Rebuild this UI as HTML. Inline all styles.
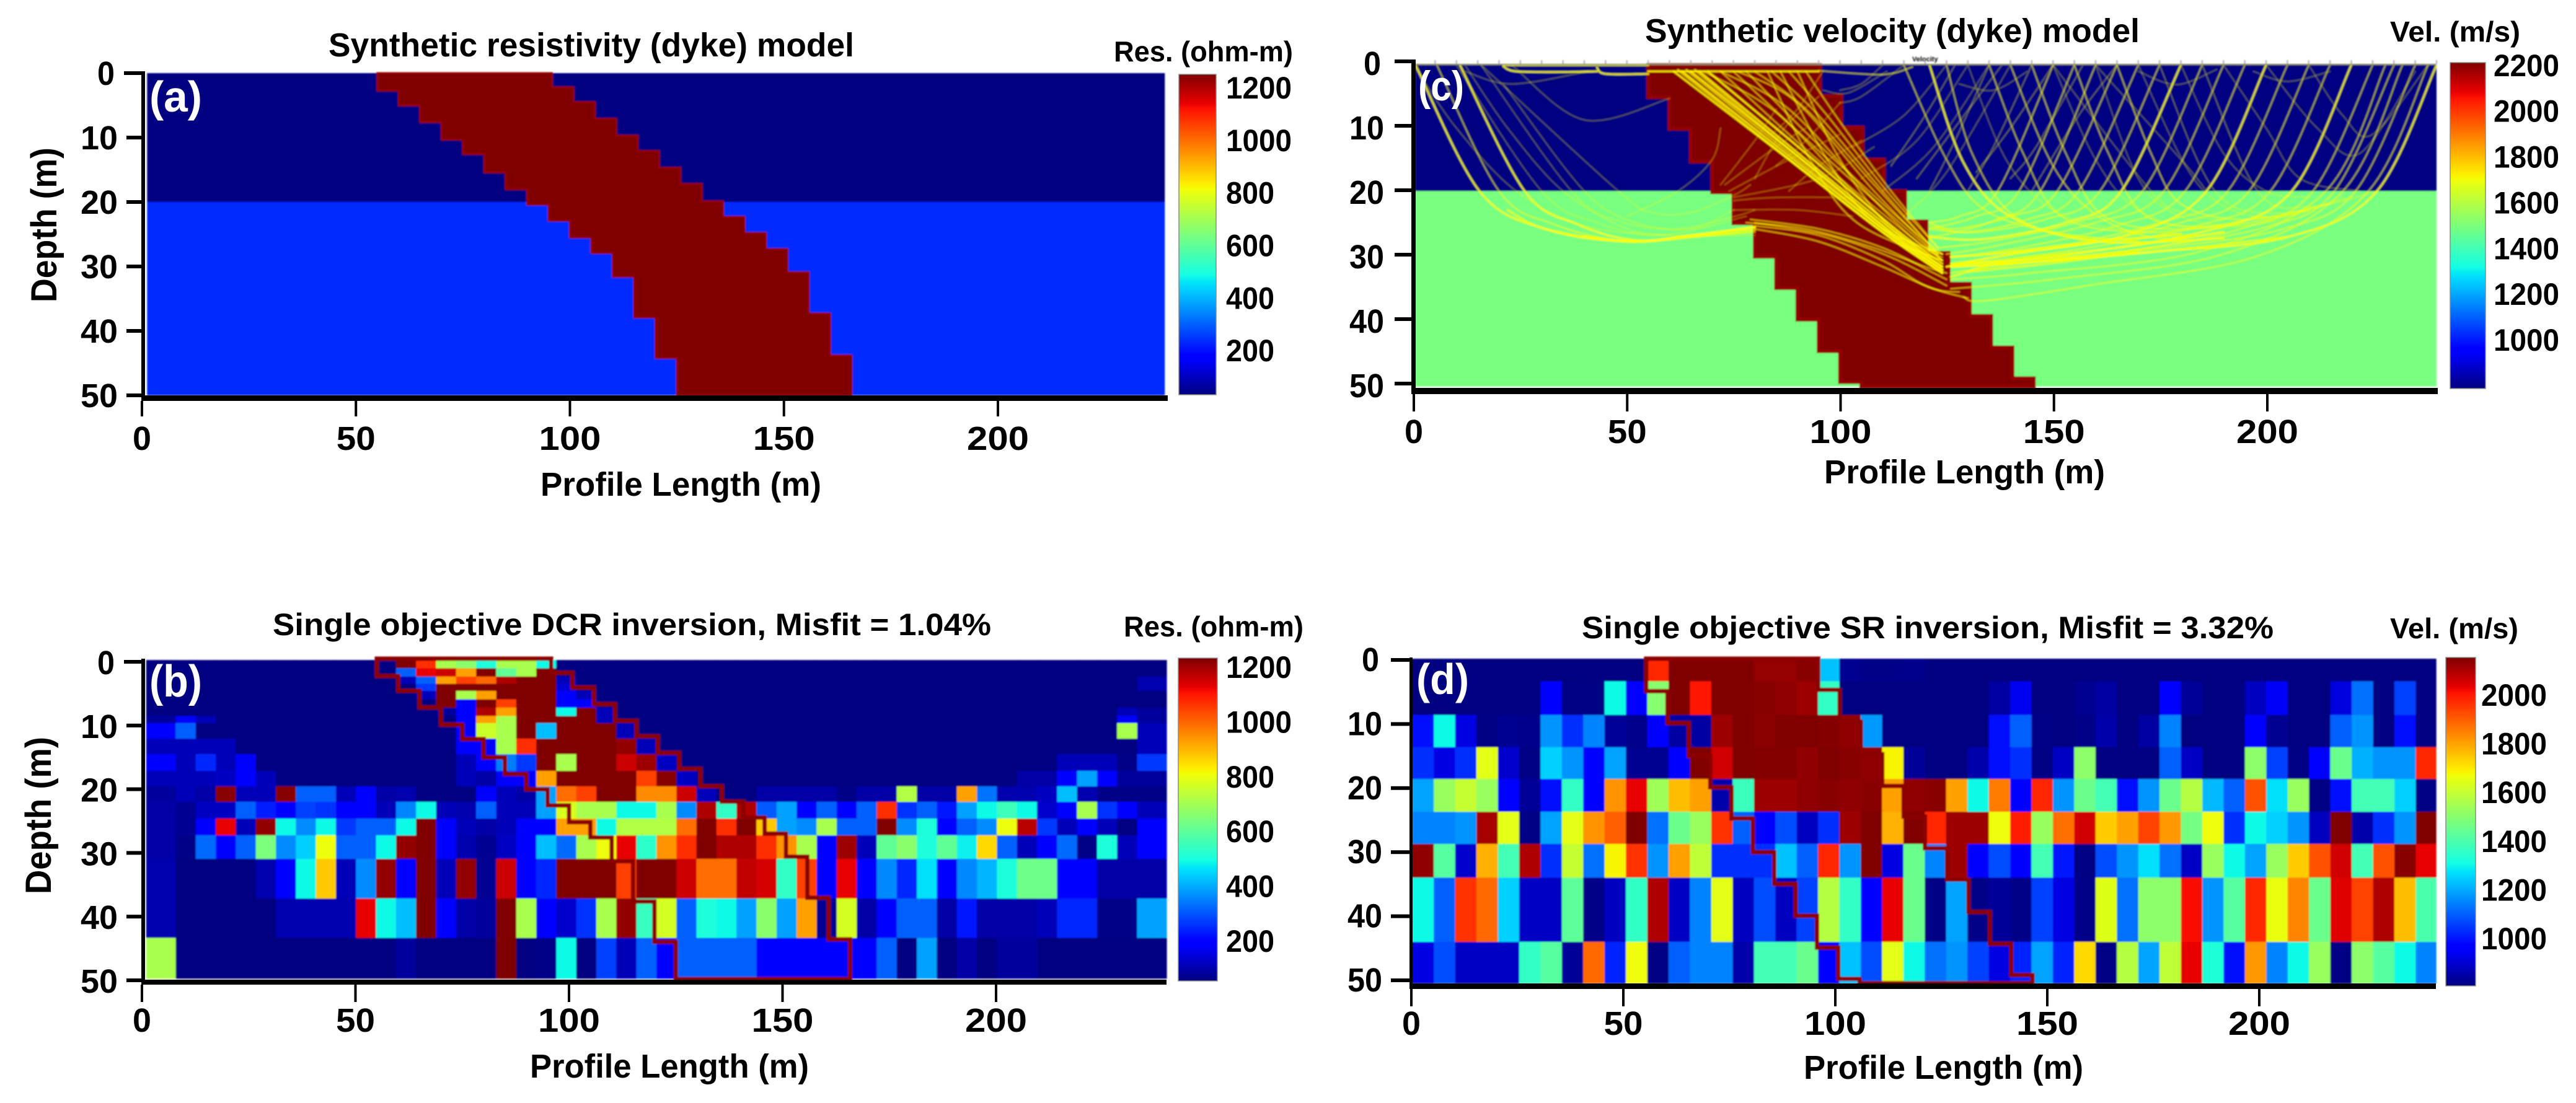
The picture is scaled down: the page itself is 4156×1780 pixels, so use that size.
<!DOCTYPE html>
<html lang="en">
<head>
<meta charset="utf-8">
<title>Synthetic dyke models and inversions</title>
<style>
html,body{margin:0;padding:0;background:#fff;}
svg{display:block;}
text{font-family:"Liberation Sans",sans-serif;font-weight:bold;fill:#000;}
</style>
</head>
<body>
<svg id="chart" xmlns="http://www.w3.org/2000/svg" width="4156" height="1780" viewBox="0 0 4156 1780">
<rect x="0" y="0" width="4156" height="1780" fill="#ffffff"/>
<defs>
<clipPath id="clip-c"><rect x="2283" y="103" width="1648" height="521"/></clipPath>
<filter id="soft" filterUnits="userSpaceOnUse" x="0" y="0" width="4156" height="1780"><feGaussianBlur stdDeviation="1"/></filter>
</defs>
<text x="530" y="91" font-size="54" textLength="848" lengthAdjust="spacingAndGlyphs">Synthetic resistivity (dyke) model</text>
<text x="2654" y="68" font-size="54" textLength="798" lengthAdjust="spacingAndGlyphs">Synthetic velocity (dyke) model</text>
<text x="440" y="1025" font-size="50" textLength="1159" lengthAdjust="spacingAndGlyphs">Single objective DCR inversion, Misfit = 1.04%</text>
<text x="2552" y="1030" font-size="50" textLength="1116" lengthAdjust="spacingAndGlyphs">Single objective SR inversion, Misfit = 3.32%</text>
<text x="1797" y="99" font-size="46" textLength="289" lengthAdjust="spacingAndGlyphs">Res. (ohm-m)</text>
<text x="1813" y="1027" font-size="46" textLength="290" lengthAdjust="spacingAndGlyphs">Res. (ohm-m)</text>
<text x="3856" y="67" font-size="46" textLength="210" lengthAdjust="spacingAndGlyphs">Vel. (m/s)</text>
<text x="3856" y="1030" font-size="46" textLength="207" lengthAdjust="spacingAndGlyphs">Vel. (m/s)</text>
<text x="872" y="800" font-size="54" textLength="453" lengthAdjust="spacingAndGlyphs">Profile Length (m)</text>
<text x="2943" y="780" font-size="54" textLength="453" lengthAdjust="spacingAndGlyphs">Profile Length (m)</text>
<text x="855" y="1739" font-size="54" textLength="450" lengthAdjust="spacingAndGlyphs">Profile Length (m)</text>
<text x="2910" y="1741" font-size="54" textLength="451" lengthAdjust="spacingAndGlyphs">Profile Length (m)</text>
<text transform="translate(91,488) rotate(-90)" font-size="58" textLength="250" lengthAdjust="spacingAndGlyphs">Depth (m)</text>
<text transform="translate(82,1443) rotate(-90)" font-size="58" textLength="254" lengthAdjust="spacingAndGlyphs">Depth (m)</text>
<g id="layer-marks" filter="url(#soft)"></g>
<g id="layer-axes"></g>
<g id="layer-labels">
<text x="241" y="180" font-size="70" textLength="85" lengthAdjust="spacingAndGlyphs" style="fill:#fff">(a)</text>
<text x="241" y="1124" font-size="72" textLength="85" lengthAdjust="spacingAndGlyphs" style="fill:#fff">(b)</text>
<text x="2288" y="162" font-size="68" textLength="74" lengthAdjust="spacingAndGlyphs" style="fill:#fff">(c)</text>
<text x="2285" y="1120" font-size="70" textLength="85" lengthAdjust="spacingAndGlyphs" style="fill:#fff">(d)</text>
</g>
</svg>
<script>
// ---- axis tick values ----
const xTickValues = [0, 50, 100, 150, 200];
const depthTickValues = [0, 10, 20, 30, 40, 50];
const resistivityBarTicks = [200, 400, 600, 800, 1000, 1200];
const velocityBarTicksC = [1000, 1200, 1400, 1600, 1800, 2000, 2200];
const velocityBarTicksD = [1000, 1200, 1400, 1600, 1800, 2000];

// ---- synthetic models ----
const resLayerDepths = [0, 20, 50];
const resLayerValues = [30, 235];
const resDykeValue = 1250;
const resDykeLeftX = [55, 60, 65, 70, 75, 80, 85, 90, 95, 100, 105, 110, 115, 120, 125];
const resDykeLeftDepth = [2.7, 5, 7.6, 10.3, 12.55, 15.4, 18, 20.4, 22.9, 25.5, 27.9, 31.6, 37.9, 44.2, 50];
const resDykeRightX = [95.8, 100.8, 105.8, 110.8, 115.8, 120.8, 125.8, 130.8, 135.8, 140.8, 145.8, 150.8, 155.8, 160.8, 165.8];
const resDykeRightDepth = [2.2, 4.5, 7.1, 9.7, 12.1, 14.7, 17.2, 19.9, 22.3, 24.8, 27.3, 30.9, 37.3, 43.8, 50];

const velLayerDepths = [0, 20, 51];
const velLayerValues = [800, 1500];
const velDykeValue = 2213;
const velDykeLeftX = [55, 60, 65, 70, 75, 80, 85, 90, 95, 100, 105];
const velDykeLeftDepth = [5.1, 10.1, 15.3, 20.2, 25.1, 30.4, 35.4, 40.4, 45.4, 50.3, 51];
const velDykeRightX = [95.3, 100.3, 105.3, 110.3, 115.3, 120.3, 125.5, 130.5, 135.5, 140.5, 145.5];
const velDykeRightDepth = [4.9, 9.9, 15, 20, 24.8, 29.8, 34.7, 39.8, 44.8, 49.7, 51];

// ---- panel b: DCR inversion (ohm-m), rows top to bottom, 50 columns ----
const dcrRowDepths = [0.2, 1.49, 2.79, 3.92, 5.03, 6.34, 7.64, 8.94, 10.06, 12.48, 14.89, 17.5, 19.92, 22.34, 24.95, 27.56, 31.24, 37.43, 43.58, 49.9];
const dcrValues = [
[30,30,30,30,30,30,30,30,30,30,30,30,1250,1080,707,660,500,707,707,481,30,30,30,30,30,30,30,30,30,30,30,30,30,30,30,30,30,30,30,30,30,30,30,30,30,30,30,30,30,30],
[30,30,30,30,30,30,30,30,30,30,30,30,298,1140,1170,933,1250,600,707,1250,30,30,30,30,30,30,30,30,30,30,30,30,30,30,30,30,30,30,30,30,30,30,30,30,30,30,30,30,30,30],
[30,30,30,30,30,30,30,30,30,30,30,30,90,298,933,1058,1010,1200,1250,1250,90,30,30,30,30,30,30,30,30,30,30,30,30,30,30,30,30,30,30,30,30,30,30,30,30,30,30,30,30,80],
[30,30,30,30,30,30,30,30,30,30,30,30,30,250,1250,1250,1250,1250,1250,1250,120,30,30,30,30,30,30,30,30,30,30,30,30,30,30,30,30,30,30,30,30,30,30,30,30,30,30,30,30,80],
[30,30,30,30,30,30,30,30,30,30,30,30,30,90,1250,707,933,1250,1250,1250,165,90,30,30,30,30,30,30,30,30,30,30,30,30,30,30,30,30,30,30,30,30,30,30,30,30,30,30,30,30],
[30,30,30,30,30,30,30,30,30,30,30,30,30,30,1250,165,1250,1058,1250,1250,165,165,30,30,30,30,30,30,30,30,30,30,30,30,30,30,30,30,30,30,30,30,30,30,30,30,30,30,30,30],
[30,30,30,30,30,30,30,30,30,30, 30,30,30,30,60,165,1200,933,1250,1250, 481,1250,90,30,30,30,30,30,30,30, 30,30,30,30,30,30,30,30,30,30, 30,30,30,30,30,30,30,30,90,60],
[60,165,90,30,30,30,30,30,30,30, 30,30,30,30,30,165,933,707,1250,1250, 1250,1250,90,30,30,30,30,30,30,30, 30,30,30,30,30,30,30,30,30,30, 30,30,30,30,30,30,30,30,165,60],
[165,298,30,30,30,30,30,30,30,30, 30,30,30,30,30,165,760,707,1250,410, 1250,1250,1250,90,30,30,30,30,30,30, 30,30,30,30,30,30,30,30,30,30, 30,30,30,30,30,30,30,30,707,90],
[90,90,90,90,30,30,30,30,30,30, 30,30,30,30,30,190,165,707,1080,1250, 1250,1250,1250,1230,90,30,30,30,30,30, 30,30,30,30,30,30,30,30,30,30, 30,30,30,30,30,30,30,30,30,90],
[190,90,230,90,165,30,30,30,30,30,30,30,30,30,30,90,165,330,250,1250,707,1250,1250,1170,1220,100,30,30,30,30,30,30,30,30,30,30,30,30,30,30,30,30,30,30,30,90,90,90,40,250],
[90,90,90,100,165,90,30,30,30,30,30,30,30,30,30,90,70,165,165,933,1250,1250,1250,1250,1058,1240,100,30,30,30,30,30,30,30,30,30,30,30,30,30,30,30,30,70,70,165,375,190,60,60],
[60,90,70,1240,90,90,1240,298,298,90,165,70,80,30,30,30,165,90,70,375,1000,1058,1250,1250,960,960,1170,90,30,30,70,70,70,70,40,70,70,720,70,70,933,320,80,80,100,410,80,40,40,40],
[70,50,100,100,298,220,190,260,240,175,165,90,340,481,90,80,298,90,90,375,780,707,707,481,481,707,350,1200,530,1200,290,375,170,298,165,298,1080,240,298,210,375,481,545,481,110,165,707,240,190,90],
[70,50,165,1140,90,1230,481,350,481,250,298,298,481,1250,165,90,70,90,165,165,933,933,481,720,720,720,1000,1250,1080,1250,880,375,350,707,298,298,1250,350,500,165,298,350,810,1190,250,90,165,90,30,165],
[70,40,310,165,298,640,350,430,810,298,298,481,1230,1250,165,80,50,100,165,410,310,707,810,1140,520,950,1080,1250,1200,1200,1080,950,707,165,1220,90,600,660,500,600,470,860,298,90,165,310,40,500,90,165],
[80,30,30,30,30,80,165,481,880,90,350,1230,165,1250,90,1230,50,1170,165,230,1250,1250,1250,1058,1250,1250,1170,1000,1000,1180,1160,530,1058,165,1140,165,345,230,450,165,345,400,500,620,620,165,165,70,70,70],
[80,30,30,30,30,30,80,80,80,80,1140,481,410,1250,165,70,60,1250,707,165,110,240,707,1230,540,770,298,500,481,375,660,375,933,50,770,70,165,298,298,70,210,70,70,70,90,230,230,40,40,375],
[707,30,30,30,30,30,30,30,30,30,30,30,60,30,30,30,30,1250,30,40,481,30,260,90,298,165,298,298,298,298,165,165,165,165,165,165,298,30,375,30,70,30,60,60,30,30,30,30,30,30]
];
const dcrFirstEdge = 1;
const dcrEndColumnWidth = 6.9;
const dcrColumnWidth = 4.69;

// ---- panel d: SR inversion (m/s), rows top to bottom, 48 columns ----
const srRowDepths = [0, 3.55, 8.83, 13.9, 18.9, 24.05, 29.1, 34.4, 44.5, 51];
const srValues = [
[810,810,810,810,810,810,810,810,810,810,810,1976,2150,2150,2150,2150,2125,2125,2140,1232,830,820,820,825,810,810,810,810,810,810,810,810,810,810,810,810,810,810,810,810,810,810,810,810,810,810,810,810],
[810,810,810,810,810,810,957,815,815,1306,960,1500,2150,2000,2150,2150,2140,2130,2116,1360,810,810,810,810,810,810,810,850,940,810,810,830,850,810,810,960,840,810,810,884,950,810,810,920,1125,810,1060,810],
[998,1306,924,815,830,825,1172,1038,1150,840,825,957,850,850,2116,2150,2137,2150,2150,2145,2130,1180,810,810,810,810,810,998,1105,820,810,820,860,810,850,1150,810,810,810,957,830,810,810,1105,1172,810,998,810],
[1038,924,1038,1648,900,815,1252,1172,957,1192,830,830,957,2150,2056,2150,2145,2145,2130,2150,2140,2130,1681,840,810,810,860,998,1038,815,890,1507,810,810,810,1105,890,810,810,1507,1060,815,960,1453,1210,1172,1172,1976],
[1192,1527,1600,1527,957,840,998,1360,957,1820,2029,1540,1761,1802,860,1373,2116,2116,2130,2140,2130,2140,1802,2130,2140,1802,1306,1855,960,1976,1172,1453,1386,990,1172,1453,1574,1220,1105,1915,1272,1527,815,998,1386,1386,1252,815],
[1150,1150,1172,2105,1648,815,1192,1648,1820,1895,2150,1125,1453,1527,1960,1105,957,1078,884,1038,2116,2150,1780,2150,1976,2116,2116,1670,1990,1527,1870,2056,1740,1802,1936,1815,1470,1670,1038,1306,1252,1172,884,2150,860,1038,1172,2150],
[2130,1420,900,1780,1386,2096,1038,1600,1125,1681,1960,1172,1802,1590,1038,1038,1038,1232,1105,1976,1172,2150,924,1453,1150,2116,957,1078,957,1386,1010,815,1078,1172,1272,1125,890,1527,1306,1192,1527,1740,1915,2056,1386,1915,2140,2029],
[1306,1105,1960,1880,1252,890,890,1430,820,884,1360,2096,890,1150,1648,884,1078,884,1060,1574,1360,957,2029,1453,815,1192,820,840,820,1060,924,820,1640,1125,1507,1507,2010,1172,1420,1976,1660,1840,1453,2040,1936,2096,1761,1400],
[924,1078,890,890,890,1360,1420,837,1880,1020,1670,815,1105,1150,1150,860,1386,1386,1453,957,1232,1078,1648,1306,1125,1172,1060,924,1020,1192,1020,1721,815,1574,1192,1590,2029,1330,998,1815,1150,1306,1527,815,1507,1420,1306,1150]
];
const srColumnWidth = 5;
const srColumnOffset = 0.25;
const srMaxX = 240;

// ---- panel c: ray paths as [profile metres, depth metres] control points ----
const bandRays = [
[[22,23],[30.8,26],[50,28],[65.4,27],[80,25.7]],
[[40,27.2],[52,28],[65,27.3],[80,26.2]],
[[205,27.3],[174,29.6],[144,31.3],[126,32]],
[[190,26.5],[165,29],[140,31],[126,33.6]],
[[180,26.8],[155,28.4],[135,30],[126,30.4]],
[[170,29.6],[150,31.4],[130,32.8]],
[[62,0.8],[90,16],[110,26.5],[124,33]],
[[64,0.8],[90,15],[111,26.5],[124,32.6]],
[[66,0.8],[91,15],[112,26.6],[124,32.4]]
];
const heavyRays = [
[[240,0],[226,20],[205,27.3],[174,29.6],[144,31.3],[126,32]],
[[220,0],[206,20],[186,26.3],[151,30.3],[128,31.6]],
[[200,0],[186,20],[167,27],[140,30],[125,32]],
[[180,0],[166,20],[153,25],[134,27.6],[121,27.3]],
[[121,0],[129,15.5],[140,24],[161,28],[190,27.5]],
[[0.4,0],[15.4,20],[30.8,26],[50,28],[65.4,27],[80,25.7]],
[[10.8,0],[26,20],[38.5,25.3],[52,27.8],[65.4,27],[80,25.8]],
[[61,1],[90,16],[110,26.5],[124,33]],
[[63,1],[91,16],[111,26.5],[124,32.5]],
[[65,1],[92,15.5],[112,26.5],[124,32]],
[[67,1],[92,15],[112,26],[124,32]],
[[69,1],[92,14],[113,26],[124,31.5]],
[[21,0],[30,0],[45,0],[55,0]],
[[21,0.2],[24,1],[35,1.1],[43,1]],
[[43,0.4],[45,1.4],[55,1.4]],
[[55,1],[70,1],[95,1]]
];
const mediumRays = [
[[235,0],[221,20],[204,26],[178,28.8],[150,30.6],[126,31.5]],
[[230,0],[216,20],[200,25.7],[172,29],[146,31],[126,32]],
[[225,0],[211,20],[194,26],[168,29.5],[142,31.5],[126,33]],
[[215,0],[201,20],[184,25.5],[158,29],[136,31],[126,31.5]],
[[210,0],[196,20],[180,25],[155,28.6],[126,30.5]],
[[205,0],[191,20],[175,25],[150,29],[126,31.5]],
[[195,0],[181,20],[165,25.5],[142,29],[126,30.5]],
[[190,0],[176,20],[160,25],[138,28.5],[125,30]],
[[185,0],[171,20],[155,25],[135,28],[123,29]],
[[175,0],[161,20],[148,24.5],[132,26.5],[121,26]],
[[170,0],[156,20],[144,24.5],[130,26.5],[121,25.5]],
[[165,0],[151,20],[140,24],[127,26],[121,25]],
[[160,0],[147,20],[136,24.7],[124,27],[121,27]],
[[155,0],[142,20],[132,24],[121,26]],
[[150,0],[137,20],[128,24],[121,25]],
[[140,0],[150,16],[160.6,24],[175,27.5],[190,26.5]],
[[115,0],[125,15],[134,23],[150,26.5],[170,28]],
[[5.4,0],[20,20],[33,25.3],[50,28],[65,27.3],[80,26.5]],
[[72,1],[93,14],[114,25.8],[124,31]],
[[75,1],[94,13],[114,25],[124,31]],
[[78,1],[94,12],[115,25],[124,30]],
[[83,1],[93,15],[104,25],[124,31]],
[[86,1],[97,15],[108,25],[124,30]],
[[90,1],[100,15],[112,26],[124,30.5]],
[[68,1],[85,7.5],[103,20],[118,29],[124,31]],
[[72,1],[88,7],[106,20],[118,28],[124,30]],
[[76,1],[90,6],[108,20],[124,31]],
[[80,1],[92,7],[108,19],[123,30]],
[[84,1],[95,8],[110,20],[123,30]],
[[88,1],[97,8],[111,20],[123,29]],
[[92,1],[100,9],[112,20],[123,29]],
[[80,25.5],[95,27],[110,31],[120,35],[130,37]],
[[80,25],[97,27],[112,30.5],[125,35]],
[[80,26],[95,28],[110,32],[122,35.5],[128,36]],
[[79,24.5],[95,26],[110,29],[122,33],[125,34]],
[[78,25],[92,26],[108,29],[120,32],[125,33]],
[[95,0.9],[110,1.5],[117,0.3]],
[[238,0],[224,20],[198,30.3],[159,34.9],[134,37.4],[129,36.8]],
[[232,0],[218,20],[190,30],[150,34],[126,35.5]],
[[228,0],[214,20],[185,29.5],[145,33],[126,34]],
[[125,0],[131,14],[141,24],[158,27.5],[180,27]],
[[135,0],[143,14],[152,24],[170,26.5],[190,25.5]],
[[145,0],[153,14],[162,24],[180,26],[200,24]],
[[155,0],[163,14],[172,24],[190,25.5],[210,23]],
[[165,0],[173,14],[180,22],[195,24.5],[215,22]]
];
const faintRays = [
[[160,0],[170,18],[180,24],[195,25.5],[210,23]],
[[130,0],[139,15],[150,23],[165,26],[185,27]],
[[150,0],[160,15],[170,23],[185,26],[205,24.5]],
[[170,0],[182,17],[192,23],[205,24],[218,21]],
[[180,0],[190,14],[200,20],[210,21]],
[[150,0],[173,20],[180.7,23.4],[190,24.7]],
[[160,0],[180.7,15.5],[186,20]],
[[190,0],[200,10],[208,18],[222,20]],
[[200,0],[212,10],[222,14],[235,1]],
[[210,0],[218,8],[225,11],[238,0]],
[[170,1],[179,3.1],[188.4,0.7]],
[[197,1],[205,2.6],[215,1]],
[[128,3],[136,4],[144,1]],
[[15.8,0],[37,20],[48,24.7],[61.6,26],[75.4,24],[80,23]],
[[15.8,0],[48,20],[56,23.4],[65,23.4],[75,20.7],[79,19]],
[[10,0],[30,20],[43,25],[58,27],[78,24]],
[[0,0],[10,10],[24,20],[40,25.5],[60,27],[80,27]],
[[21,3],[40,20],[52,25],[65,26],[75,23]],
[[50,24],[62,20],[70,15],[72,10]],
[[12,0],[22,10],[35,20],[50,26],[60,27]],
[[23,0],[40,8.7],[60,5.3]],
[[12,1],[23,3],[41,1]],
[[125,0],[115,8],[103,13]],
[[130,0],[118,12],[105,18]],
[[135,0],[122,13],[110,20]],
[[140,0],[125,17],[115,24]],
[[115,0],[105,5],[100,6]],
[[110,0],[105,3],[100,4]],
[[96,4],[102,4.4],[111,1]],
[[96,1],[90,7],[84,11]],
[[95,5],[87,10],[80,18]],
[[100,6],[92,12],[85,16]],
[[105,12],[95,16],[88,20]],
[[72,19],[80,12],[85,7]],
[[73,19],[85,13],[92,10]],
[[74,20],[88,15],[100,11]],
[[75,21],[95,18],[108,13]],
[[75,23],[90,23],[103,24]],
[[75,21.5],[85,21],[103,21]]
];
// Receiver stations along the top of panel c (profile metres).
const surveyStations = [0,5,10,15,20,25,30,35,40,45,50,55,60,65,70,75,80,85,90,95,100,105,110,115,120,125,130,135,140,145,150,155,160,165,170,175,180,185,190,195,200,205,210,215,220,225,230,235,240];

// Right-side receiver rays in panel c.
const receiverRays = [
[[175,0],[188,20],[203,23.5],[220,21]],
[[185,0],[198,20],[210,22.5],[226,20]],
[[145,0],[136,13],[130,20]],[[135,0],[127,12],[121,20]],
[[127,0],[120,8],[112,16]],[[138,0],[128,9],[118,18]],
[[150,0],[140,10],[132,17]],[[157,0],[146,13],[140,18]],
[[165,0],[156,8],[145,20]]
];

const NS = 'http://www.w3.org/2000/svg';
const marks = document.getElementById('layer-marks');
const axes = document.getElementById('layer-axes');
const defs = document.querySelector('#chart defs');

function lerpTable(t, xs, ys) {
  if (t <= xs[0]) return ys[0];
  for (let i = 1; i < xs.length; i++) {
    if (t <= xs[i]) return ys[i - 1] + (ys[i] - ys[i - 1]) * (t - xs[i - 1]) / (xs[i] - xs[i - 1]);
  }
  return ys[ys.length - 1];
}
function jet(t) {
  const r = lerpTable(t, [0, 0.35, 0.66, 0.89, 1], [0, 0, 1, 1, 0.5]);
  const g = lerpTable(t, [0, 0.125, 0.375, 0.64, 0.91, 1], [0, 0, 1, 1, 0, 0]);
  const b = lerpTable(t, [0, 0.11, 0.34, 0.65, 1], [0.5, 1, 1, 0, 0]);
  return 'rgb(' + Math.round(r * 255) + ',' + Math.round(g * 255) + ',' + Math.round(b * 255) + ')';
}
function colorOf(v, dom) { return jet((v - dom[0]) / (dom[1] - dom[0])); }
function mk(tag, attrs, parent) {
  const el = document.createElementNS(NS, tag);
  for (const k in attrs) el.setAttribute(k, attrs[k]);
  parent.appendChild(el);
  return el;
}
function linear(origin, slope) { return function (v) { return origin + slope * v; }; }

function staircase(leftX, leftD, rightX, rightD) {
  const pts = [[leftX[0], 0]];
  for (let i = 0; i < leftX.length; i++) {
    pts.push([leftX[i], leftD[i]]);
    if (i + 1 < leftX.length) pts.push([leftX[i + 1], leftD[i]]);
  }
  for (let i = rightX.length - 1; i >= 0; i--) {
    pts.push([rightX[i], rightD[i]]);
    if (i > 0) pts.push([rightX[i], rightD[i - 1]]);
  }
  pts.push([rightX[0], 0]);
  return pts;
}
function polyPoints(pts, sx, sy) {
  return pts.map(function (p) { return sx(p[0]).toFixed(1) + ',' + sy(p[1]).toFixed(1); }).join(' ');
}
function smoothPath(pts, sx, sy) {
  const P = pts.map(function (p) { return [sx(p[0]), sy(p[1])]; });
  let d = 'M' + P[0][0].toFixed(1) + ' ' + P[0][1].toFixed(1);
  for (let i = 0; i < P.length - 1; i++) {
    const p0 = P[i - 1] || P[i], p1 = P[i], p2 = P[i + 1], p3 = P[i + 2] || P[i + 1];
    d += 'C' + (p1[0] + (p2[0] - p0[0]) / 6).toFixed(1) + ' ' + (p1[1] + (p2[1] - p0[1]) / 6).toFixed(1) + ' ' +
      (p2[0] - (p3[0] - p1[0]) / 6).toFixed(1) + ' ' + (p2[1] - (p3[1] - p1[1]) / 6).toFixed(1) + ' ' +
      p2[0].toFixed(1) + ' ' + p2[1].toFixed(1);
  }
  return d;
}

const panels = {
  a: { xs: linear(229, 6.905), ys: linear(118, 10.4), tickYs: linear(118, 10.4), tickXs: linear(229, 6.905),
    color: [30, 1250], barDom: [33, 1252], bar: [1902, 120, 60, 517], barTicks: resistivityBarTicks, barLabelX: 1978,
    axisLeft: 228, axisW: 6, axisTop: 115, axisBottom: 647, baseY: 638, baseH: 9, baseRight: 1884, tickBottom: 672,
    yTickLeft: 204, zeroTickLeft: 200, yLabelRight: 190, zeroLabelRight: 185, yLabelW: 60, yLabelDy: 19, xBase: 726 },
  b: { xs: linear(229, 6.89), ys: linear(1063, 10.34), tickYs: linear(1068, 10.28), tickXs: linear(229, 6.89),
    color: [30, 1250], barDom: [55, 1234], bar: [1901, 1062, 63, 521], barTicks: resistivityBarTicks, barLabelX: 1978,
    axisLeft: 228, axisW: 6, axisTop: 1063, axisBottom: 1588, baseY: 1581, baseH: 8, baseRight: 1882, tickBottom: 1617,
    yTickLeft: 204, zeroTickLeft: 200, yLabelRight: 190, zeroLabelRight: 185, yLabelW: 60, yLabelDy: 20, xBase: 1665 },
  c: { xs: linear(2281, 6.875), ys: linear(105, 10.17), tickYs: linear(99, 10.4), tickXs: linear(2281, 6.885),
    color: [800, 2213], barDom: [789, 2213], bar: [3953, 101, 57, 526], barTicks: velocityBarTicksC, barLabelX: 4023,
    axisLeft: 2277, axisW: 7, axisTop: 96, axisBottom: 636, baseY: 626, baseH: 10, baseRight: 3933, tickBottom: 664,
    yTickLeft: 2250, zeroTickLeft: 2250, yLabelRight: 2233, zeroLabelRight: 2228, yLabelW: 56, yLabelDy: 22, xBase: 715 },
  d: { xs: linear(2277, 6.888), ys: linear(1063, 10.27), tickYs: linear(1065, 10.34), tickXs: linear(2277, 6.84),
    color: [810, 2150], barDom: [807, 2155], bar: [3946, 1061, 48, 530], barTicks: velocityBarTicksD, barLabelX: 4003,
    axisLeft: 2274, axisW: 5, axisTop: 1061, axisBottom: 1596, baseY: 1587, baseH: 9, baseRight: 3930, tickBottom: 1624,
    yTickLeft: 2244, zeroTickLeft: 2244, yLabelRight: 2230, zeroLabelRight: 2225, yLabelW: 56, yLabelDy: 18, xBase: 1670 }
};

function drawLayers(key, depths, values, x0, x1, name) {
  const p = panels[key];
  for (let i = 0; i < values.length; i++) {
    const r = mk('rect', { x: p.xs(x0), y: p.ys(depths[i]), width: p.xs(x1) - p.xs(x0), height: p.ys(depths[i + 1]) - p.ys(depths[i]), fill: colorOf(values[i], p.color) }, marks);
    
    
  }
}
function drawAxes(key) {
  const p = panels[key];
  const g = mk('g', {}, axes);
  
  
  const left = mk('rect', { x: p.axisLeft, y: p.axisTop, width: p.axisW, height: p.axisBottom - p.axisTop, fill: '#000' }, g);
  
  
  const base = mk('rect', { x: p.axisLeft, y: p.baseY, width: p.baseRight - p.axisLeft, height: p.baseH, fill: '#000' }, g);
  
  
  xTickValues.forEach(function (v) {
    const x = p.tickXs(v);
    const tick = mk('rect', { x: x - 2, y: p.baseY + p.baseH, width: 4, height: p.tickBottom - p.baseY - p.baseH, fill: '#000' }, g);
    
    
    const s = String(v);
    const t = mk('text', { x: x, y: p.xBase, 'font-size': 54, 'text-anchor': 'middle', textLength: s.length === 1 ? 30 : s.length === 2 ? 63 : 100, lengthAdjust: 'spacingAndGlyphs' }, g);
    t.textContent = s;
    
    
  });
  depthTickValues.forEach(function (v) {
    const y = p.tickYs(v);
    const tl = v === 0 ? p.zeroTickLeft : p.yTickLeft;
    const tick = mk('rect', { x: tl, y: y - 3, width: p.axisLeft + p.axisW - tl, height: 6, fill: '#000' }, g);
    
    
    const t = mk('text', { x: v === 0 ? p.zeroLabelRight : p.yLabelRight, y: y + p.yLabelDy, 'font-size': 54, 'text-anchor': 'end', textLength: v === 0 ? 28 : p.yLabelW, lengthAdjust: 'spacingAndGlyphs' }, g);
    t.textContent = String(v);
    
    
  });
  // colour bar
  const grad = mk('linearGradient', { id: 'grad-' + key, x1: 0, y1: 1, x2: 0, y2: 0 }, defs);
  [0, 0.11, 0.125, 0.34, 0.35, 0.375, 0.5, 0.64, 0.65, 0.66, 0.89, 0.91, 1].forEach(function (t) {
    mk('stop', { offset: t, 'stop-color': jet(t) }, grad);
  });
  const b = p.bar;
  const bar = mk('rect', { x: b[0], y: b[1], width: b[2], height: b[3], fill: 'url(#grad-' + key + ')', stroke: '#8a8a8a', 'stroke-width': 1.5 }, g);
  
  
  p.barTicks.forEach(function (v) {
    const y = b[1] + b[3] * (1 - (v - p.barDom[0]) / (p.barDom[1] - p.barDom[0]));
    const s = String(v);
    const t = mk('text', { x: p.barLabelX, y: y + 17, 'font-size': 50, textLength: s.length === 3 ? 78 : 106, lengthAdjust: 'spacingAndGlyphs' }, g);
    t.textContent = s;
    
    
  });
}

// ---- panel a ----
drawLayers('a', resLayerDepths, resLayerValues, 1.2, 239, 'resistivity-layer');
const resDykePoints = staircase(resDykeLeftX, resDykeLeftDepth, resDykeRightX, resDykeRightDepth);
const dykeA = mk('polygon', { points: polyPoints(resDykePoints, panels.a.xs, panels.a.ys), fill: colorOf(resDykeValue, panels.a.color), stroke: '#960000', 'stroke-width': 3 }, marks);



// ---- panel b ----
dcrValues.forEach(function (row, r) {
  row.forEach(function (v, c) {
    const p = panels.b;
    let x0, x1;
    if (c === 0) { x0 = dcrFirstEdge; x1 = dcrFirstEdge + dcrEndColumnWidth; }
    else {
      x0 = dcrFirstEdge + dcrEndColumnWidth + (c - 1) * dcrColumnWidth;
      x1 = x0 + (c === 49 ? dcrEndColumnWidth : dcrColumnWidth);
    }
    const cell = mk('rect', { x: p.xs(x0).toFixed(1), y: p.ys(dcrRowDepths[r]).toFixed(1), width: (p.xs(x1) - p.xs(x0) + 0.6).toFixed(1), height: (p.ys(dcrRowDepths[r + 1]) - p.ys(dcrRowDepths[r]) + 0.6).toFixed(1), fill: colorOf(v, p.color) }, marks);
    
    
  });
});
const outlineB = mk('polygon', { points: polyPoints(resDykePoints, panels.b.xs, panels.b.ys), fill: 'none', stroke: '#8b0000', 'stroke-width': 7 }, marks);



// ---- panel c ----
drawLayers('c', velLayerDepths, velLayerValues, 0.3, 240, 'velocity-layer');
const velDykePoints = staircase(velDykeLeftX, velDykeLeftDepth, velDykeRightX, velDykeRightDepth);
const dykeC = mk('polygon', { points: polyPoints(velDykePoints, panels.c.xs, panels.c.ys), fill: colorOf(velDykeValue, panels.c.color), stroke: '#930000', 'stroke-width': 6 }, marks);


const rayGroup = mk('g', { 'clip-path': 'url(#clip-c)', fill: 'none', stroke: '#ffff00', 'stroke-linecap': 'round' }, marks);


function drawRays(list, width, opacity, name) {
  list.forEach(function (pts) {
    const ray = mk('path', { d: smoothPath(pts, panels.c.xs, panels.c.ys), 'stroke-width': width, 'stroke-opacity': opacity }, rayGroup);
    
    
  });
}
drawRays(faintRays, 2.2, 0.3, 'faint-ray');
drawRays(receiverRays, 2.2, 0.35, 'receiver-ray');
drawRays(mediumRays, 2.4, 0.6, 'medium-ray');
drawRays(heavyRays, 3.2, 0.85, 'heavy-ray');
drawRays(bandRays, 3.6, 0.7, 'ray-band');
const topLine = mk('rect', { x: 2283, y: 103, width: 1648, height: 2, fill: '#8f8f70' }, marks);


surveyStations.forEach(function (v) {
  const s = mk('rect', { x: panels.c.xs(v) - 1, y: 97, width: 2, height: 6, fill: '#a8a8a8' }, marks);
  
  
});
const velocityTag = mk('text', { x: 3085, y: 99, 'font-size': 11 }, marks);
velocityTag.textContent = 'Velocity';



// ---- panel d ----
srValues.forEach(function (row, r) {
  row.forEach(function (v, c) {
    const p = panels.d;
    const x0 = c === 0 ? 0 : c * srColumnWidth + srColumnOffset;
    const x1 = Math.min(srMaxX, (c + 1) * srColumnWidth + srColumnOffset);
    const cell = mk('rect', { x: p.xs(x0).toFixed(1), y: p.ys(srRowDepths[r]).toFixed(1), width: (p.xs(x1) - p.xs(x0) + 0.6).toFixed(1), height: (p.ys(srRowDepths[r + 1]) - p.ys(srRowDepths[r]) + 0.6).toFixed(1), fill: colorOf(v, p.color) }, marks);
    
    
  });
});
const outlineD = mk('polygon', { points: polyPoints(velDykePoints, panels.d.xs, panels.d.ys), fill: 'none', stroke: '#8b0000', 'stroke-width': 7 }, marks);



['a', 'b', 'c', 'd'].forEach(drawAxes);
</script>
</body>
</html>
